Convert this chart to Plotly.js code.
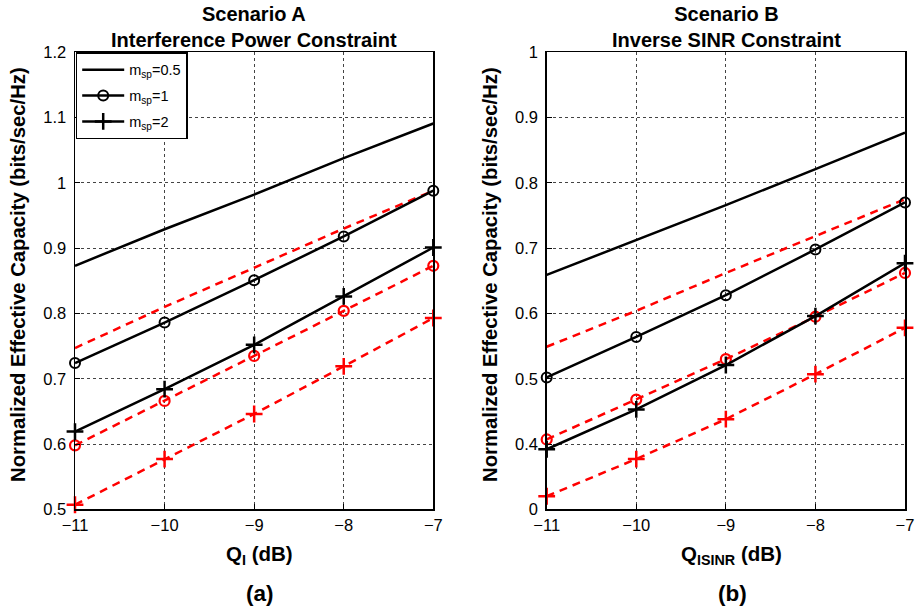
<!DOCTYPE html>
<html>
<head>
<meta charset="utf-8">
<script src="https://cdn.plot.ly/plotly-3.0.1.min.js"></script>
<style>html,body{margin:0;padding:0;background:#fff;}#chart{width:917px;height:609px;}</style>
</head>
<body>
<div id="chart"></div>
<script>
// Shared x values (dB)
var Q = [-11, -10, -9, -8, -7];

// Scenario A (Interference Power Constraint)
var aBlack05 = [0.873, 0.929, 0.982, 1.038, 1.091];
var aBlack1  = [0.724, 0.786, 0.851, 0.918, 0.988];
var aBlack2  = [0.619, 0.684, 0.752, 0.826, 0.901];
var aRed05   = [0.747, 0.810, 0.870, 0.930, 0.988];
var aRed1    = [0.598, 0.666, 0.735, 0.804, 0.873];
var aRed2    = [0.507, 0.577, 0.646, 0.719, 0.793];

// Scenario B (Inverse SINR Constraint)
var bBlack05 = [0.659, 0.712, 0.766, 0.821, 0.877];
var bBlack1  = [0.502, 0.564, 0.628, 0.698, 0.770];
var bBlack2  = [0.392, 0.453, 0.521, 0.596, 0.677];
var bRed05   = [0.549, 0.604, 0.662, 0.719, 0.775];
var bRed1    = [0.407, 0.468, 0.530, 0.595, 0.662];
var bRed2    = [0.320, 0.377, 0.438, 0.507, 0.578];

// Tick labels
var xTickVals = [-11, -10, -9, -8, -7];
var aTickVals = [0.5, 0.6, 0.7, 0.8, 0.9, 1.0, 1.1, 1.2];
var aTickText = ["0.5", "0.6", "0.7", "0.8", "0.9", "1", "1.1", "1.2"];
var bTickVals = [0.3, 0.4, 0.5, 0.6, 0.7, 0.8, 0.9, 1.0];
var bTickText = ["0", "0.4", "0.5", "0.6", "0.7", "0.8", "0.9", "1"];

var legendNames = ["m<sub>sp</sub>=0.5", "m<sub>sp</sub>=1", "m<sub>sp</sub>=2"];

function blackTrace(y, xa, ya, kind, name, showleg, grp) {
  var t = {x: Q, y: y, xaxis: xa, yaxis: ya, name: name, showlegend: showleg, legendgroup: grp,
    cliponaxis: false,
    mode: kind === 'none' ? 'lines' : 'lines+markers',
    line: {color: '#000', width: 2.5}};
  if (kind === 'circle') t.marker = {symbol: 'circle-open', size: 10, color: '#000', line: {color: '#000', width: 2}};
  if (kind === 'plus') t.marker = {symbol: 'cross-thin-open', size: 12, color: '#000', line: {color: '#000', width: 2.5}};
  return t;
}
function redTrace(y, xa, ya, kind) {
  var t = {x: Q, y: y, xaxis: xa, yaxis: ya, showlegend: false, cliponaxis: false,
    mode: kind === 'none' ? 'lines' : 'lines+markers',
    line: {color: '#ff0000', width: 2.5, dash: '8px,6px'}};
  if (kind === 'circle') t.marker = {symbol: 'circle-open', size: 10, color: '#ff0000', line: {color: '#ff0000', width: 2.2}};
  if (kind === 'plus') t.marker = {symbol: 'cross-thin-open', size: 12, color: '#ff0000', line: {color: '#ff0000', width: 2.5}};
  return t;
}

var data = [
  redTrace(aRed05, 'x', 'y', 'none'),
  redTrace(aRed1, 'x', 'y', 'circle'),
  redTrace(aRed2, 'x', 'y', 'plus'),
  blackTrace(aBlack05, 'x', 'y', 'none', legendNames[0], true, 'g1'),
  blackTrace(aBlack1, 'x', 'y', 'circle', legendNames[1], true, 'g2'),
  blackTrace(aBlack2, 'x', 'y', 'plus', legendNames[2], true, 'g3'),
  redTrace(bRed05, 'x2', 'y2', 'none'),
  redTrace(bRed1, 'x2', 'y2', 'circle'),
  redTrace(bRed2, 'x2', 'y2', 'plus'),
  blackTrace(bBlack05, 'x2', 'y2', 'none', legendNames[0], false, 'g1'),
  blackTrace(bBlack1, 'x2', 'y2', 'circle', legendNames[1], false, 'g2'),
  blackTrace(bBlack2, 'x2', 'y2', 'plus', legendNames[2], false, 'g3')
];

var W = 917, H = 609;
var yDom = [(H - 509.3) / H, (H - 52.3) / H];
var font = 'Liberation Sans, Arial, Helvetica, sans-serif';

function xAxis(dom, anchor) {
  return {domain: dom, anchor: anchor, range: [-11, -7], tickvals: xTickVals,
    showline: true, mirror: true, linecolor: '#000', linewidth: 1.5,
    ticks: 'inside', ticklen: 5, tickcolor: '#000', tickwidth: 1,
    showgrid: true, gridcolor: '#444', griddash: 'dot', gridwidth: 1,
    zeroline: false, tickfont: {size: 16.5, color: '#000', family: font}};
}
function yAxis(dom, anchor, range, tv, tt) {
  return {domain: dom, anchor: anchor, range: range, tickvals: tv, ticktext: tt,
    showline: true, mirror: true, linecolor: '#000', linewidth: 1.5,
    ticks: 'inside', ticklen: 5, tickcolor: '#000', tickwidth: 1,
    ticklabelstandoff: 4,
    showgrid: true, gridcolor: '#444', griddash: 'dot', gridwidth: 1,
    zeroline: false, tickfont: {size: 16.5, color: '#000', family: font}};
}

function ann(text, x, y, size, angle) {
  return {text: text, xref: 'paper', yref: 'paper', x: x / W, y: 1 - y / H,
    xanchor: 'center', yanchor: 'middle', showarrow: false, textangle: angle || 0,
    font: {size: size, color: '#000', family: font}};
}

var layout = {
  width: W, height: H,
  margin: {l: 0, r: 0, t: 0, b: 0},
  paper_bgcolor: '#fff', plot_bgcolor: '#fff',
  font: {family: font, color: '#000'},
  xaxis: xAxis([75 / W, 433.3 / W], 'y'),
  yaxis: yAxis(yDom, 'x', [0.5, 1.2], aTickVals, aTickText),
  xaxis2: xAxis([546.7 / W, 905 / W], 'y2'),
  yaxis2: yAxis(yDom, 'x2', [0.3, 1.0], bTickVals, bTickText),
  showlegend: true,
  legend: {x: 75.7 / W, y: 1 - 52.3 / H, xanchor: 'left', yanchor: 'top',
    bgcolor: '#fff', bordercolor: '#000', borderwidth: 1.5, tracegroupgap: 4,
    traceorder: 'grouped',
    font: {size: 14.5, color: '#000', family: font}, itemwidth: 42},
  annotations: [
    ann('<b>Scenario A</b><br><b>Interference Power Constraint</b>', 254, 27, 20),
    ann('<b>Scenario B</b><br><b>Inverse SINR Constraint</b>', 726, 27, 20),
    ann('<b>Normalized Effective Capacity (bits/sec/Hz)</b>', 18, 275, 20.3, -90),
    ann('<b>Normalized Effective Capacity (bits/sec/Hz)</b>', 490, 275, 20.3, -90),
    ann('<b>Q<sub>I</sub> (dB)</b>', 259, 555, 20.5),
    ann('<b>Q<sub>ISINR</sub> (dB)</b>', 731, 555, 20.5),
    ann('<b>(a)</b>', 260, 593, 22.5),
    ann('<b>(b)</b>', 732, 593, 22.5)
  ]
};

Plotly.newPlot('chart', data, layout, {displayModeBar: false, staticPlot: true});
</script>
</body>
</html>
